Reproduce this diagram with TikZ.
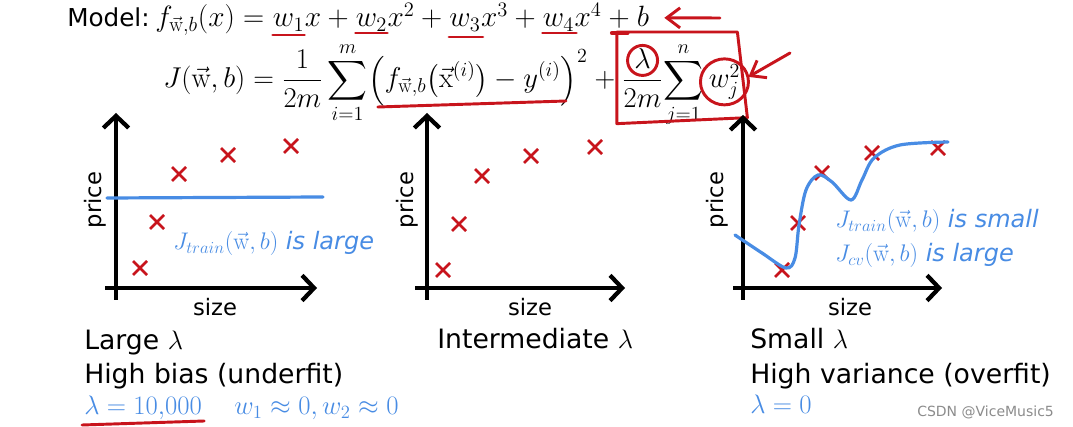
\RequirePackage{fix-cm}
\documentclass[tikz,border=0pt]{standalone}
\usepackage{amsmath}
\usepackage{fontspec}
\newfontfamily\slidefont{DejaVu Sans}
\usetikzlibrary{arrows.meta,positioning,calc,shapes.misc}
\definecolor{inkred}{RGB}{200,20,28}
\definecolor{inkblue}{RGB}{72,140,228}
\newcommand{\wvec}{\vec{\mathrm{w}}}
\newcommand{\xvec}{\vec{\mathrm{x}}}

\begin{document}
\begin{tikzpicture}[
  x=0.75pt, y=-0.75pt,
  slidetext/.style={font=\slidefont\fontsize{20}{24}\selectfont, inner sep=0pt, anchor=base west},
  formula/.style={font=\fontsize{22}{26}\selectfont, inner sep=0pt, anchor=base west},
  costformula/.style={font=\fontsize{21.5}{26}\selectfont, inner sep=0pt, anchor=base west},
  axislabel/.style={font=\slidefont\fontsize{17}{20}\selectfont, inner sep=0pt},
  pentext/.style={font=\slidefont\itshape\fontsize{18}{22}\selectfont, text=inkblue, inner sep=0pt, anchor=base west},
  plotaxis/.style={line width=3.2pt, -{Straight Barb[length=9pt,width=19pt]}},
  datapt/.style={cross out, draw=inkred, line width=2pt, minimum size=8.5pt, inner sep=0pt},
  fitcurve/.style={draw=inkblue, line width=2.4pt, line cap=round},
  redpen/.style={draw=inkred, line width=2.2pt, line cap=round, line join=round},
]
\path[use as bounding box, fill=white] (0,0) rectangle (1073,427);

%% Model line
\node[slidetext, font=\slidefont\fontsize{18.5}{22}\selectfont] (model) at (67,27) {Model:};
\node[formula] (fdef)  at (155,27)         {$f_{\wvec,b}(x) = {}$};
\node[formula] (w1)    at (fdef.base east) {$w_1$};
\node[formula] (t1)    at (w1.base east)   {$x + {}$};
\node[formula] (w2)    at (t1.base east)   {$w_2$};
\node[formula] (t2)    at (w2.base east)   {$x^2 + {}$};
\node[formula] (w3)    at (t2.base east)   {$w_3$};
\node[formula] (t3)    at (w3.base east)   {$x^3 + {}$};
\node[formula] (w4)    at (t3.base east)   {$w_4$};
\node[formula] (t4)    at (w4.base east)   {$x^4$};
\node[formula] (plusb) at (t4.base east)   {${} + {}$};
\node[formula] (bb)    at (plusb.base east) {$b$};

%% Cost line
\node[costformula] (jlhs)    at (163,88)          {$\displaystyle J(\wvec,b) = \frac{1}{2m}\sum_{i=1}^{m}$};
\node[costformula] (err)     at (jlhs.base east)  {$\displaystyle \Bigl(f_{\wvec,b}\bigl(\xvec^{(i)}\bigr) - y^{(i)}\Bigr)^2$};
\node[costformula] (plusr)   at (err.base east)   {${} + {}$};
\node[costformula] (lamfrac) at (plusr.base east) {$\displaystyle\frac{\lambda}{2m}$};
\node[costformula] (regsum)  at (lamfrac.base east) {$\displaystyle\sum_{j=1}^{n}\,$};
\node[costformula] (wj)      at (regsum.base east) {$w_j^2$};

%% Red pen marks on the formulas
\draw[redpen] ($(w1.base west)+(0,8)$) -- ($(w1.base east)+(0,8)$);
\draw[redpen] ($(w2.base west)+(0,6)$) -- ($(w2.base east)+(0,6)$);
\draw[redpen] ($(w3.base west)+(0,10)$) -- ($(w3.base east)+(2,10)$);
\draw[redpen] ($(w4.base west)+(0,6)$) -- ($(w4.base east)+(2,6)$);
\draw[redpen] ($(err.base west)+(10,19)$) -- ($(err.base east)+(-22,13)$);
\coordinate (boxtl) at ($(lamfrac.west |- bb.base)+(-5,5)$);
\coordinate (boxtr) at ($(wj.east |- bb.base)+(-3,5)$);
\coordinate (boxbr) at ($(wj.east |- regsum.south)+(7,-10)$);
\coordinate (boxbl) at ($(boxtl |- regsum.south)+(0,-4)$);
\draw[redpen] (boxtl) -- (boxtr) -- (boxbr) -- (boxbl) -- cycle;
\draw[redpen, line width=3.5pt] ($(plusb.base)+(-7,6)$) -- ($(plusb.base)+(8,6)$);
\draw[redpen] ($(lamfrac.north)+(0,12)$) ellipse [x radius=15, y radius=15];
\draw[redpen] (wj.center) ellipse [x radius=24, y radius=23];
\coordinate (penA) at (720,18);
\coordinate (penB) at (790,53);
\draw[redpen, -{Straight Barb[length=10pt,width=15pt]}] (penA) -- ($(bb.east)+(15,1)$);
\draw[redpen, -{Straight Barb[length=10pt,width=15pt]}] (penB) -- ($(wj.east)+(8,-5)$);

%% Left plot: large lambda
\coordinate (o1) at (116,288);
\draw[plotaxis] ($(o1)+(0,12)$) -- ($(o1)+(0,-175)$);
\draw[plotaxis] ($(o1)+(-11,0)$) -- ($(o1)+(201,0)$);
\node[axislabel, rotate=90] (price1) at ($(o1)+(-21,-88)$) {price};
\node[axislabel] (size1) at ($(o1)+(99,19)$) {size};
\node[datapt] (a1) at (140,268) {};
\node[datapt] (a2) at (157,222) {};
\node[datapt] (a3) at (179,174) {};
\node[datapt] (a4) at (228,155) {};
\node[datapt] (a5) at (291,146) {};
\draw[fitcurve] (107,198) -- (323,197);
\node[pentext] (jlarge) at (173,250) {$J_{train}(\wvec,b)$ is large};

%% Middle plot: intermediate lambda
\coordinate (o2) at (427,288);
\draw[plotaxis] ($(o2)+(0,12)$) -- ($(o2)+(0,-175)$);
\draw[plotaxis] ($(o2)+(-12,0)$) -- ($(o2)+(198,0)$);
\node[axislabel, rotate=90] (price2) at ($(o2)+(-20,-88)$) {price};
\node[axislabel] (size2) at ($(o2)+(103,19)$) {size};
\node[datapt] (b1) at (443,270) {};
\node[datapt] (b2) at (459,224) {};
\node[datapt] (b3) at (482,176) {};
\node[datapt] (b4) at (531,156) {};
\node[datapt] (b5) at (595,147) {};

%% Right plot: small lambda
\coordinate (o3) at (743,288);
\draw[plotaxis] ($(o3)+(0,12)$) -- ($(o3)+(0,-173)$);
\draw[plotaxis] ($(o3)+(-10,0)$) -- ($(o3)+(199,0)$);
\node[axislabel, rotate=90] (price3) at ($(o3)+(-26,-88)$) {price};
\node[axislabel] (size3) at ($(o3)+(107,19)$) {size};
\node[datapt] (c1) at (782,270) {};
\node[datapt] (c2) at (798,223) {};
\node[datapt] (c3) at (822,173) {};
\node[datapt] (c4) at (872,153) {};
\node[datapt] (c5) at (938,148) {};
\draw[fitcurve] plot[smooth, tension=0.55] coordinates {(735,235) (762,253) (786,268) (795,258) (799,225) (806,190) (818,175) (832,182) (851,200) (862,180) (874,158) (900,145) (948,142)};
\node[pentext] (jsmall) at (835,228) {$J_{train}(\wvec,b)$ is small};
\node[pentext] (jcv)    at (835,262) {$J_{cv}(\wvec,b)$ is large};

%% Captions
\node[slidetext] (large)  at (84,349)  {Large $\lambda$};
\node[slidetext] (hibias) at (84,383)  {High bias (underfit)};
\node[slidetext, text=inkblue] (lam1)  at (84,414)  {$\lambda = 10{,}000$};
\node[slidetext, text=inkblue] (wzero) at (234,414) {$w_1 \approx 0, w_2 \approx 0$};
\draw[redpen] ($(lam1.base west)+(-2,11)$) -- ($(lam1.base east)+(2,7)$);
\node[slidetext] (inter)  at (437,348) {Intermediate $\lambda$};
\node[slidetext] (small)  at (750,348) {Small $\lambda$};
\node[slidetext] (hivar)  at (750,383) {High variance (overfit)};
\node[slidetext, text=inkblue] (lam0) at (750,413) {$\lambda = 0$};
\node[slidetext, font=\slidefont\fontsize{10.5}{12}\selectfont, text=black!45] (wmark) at (917,416) {CSDN @ViceMusic5};
\end{tikzpicture}
\end{document}
